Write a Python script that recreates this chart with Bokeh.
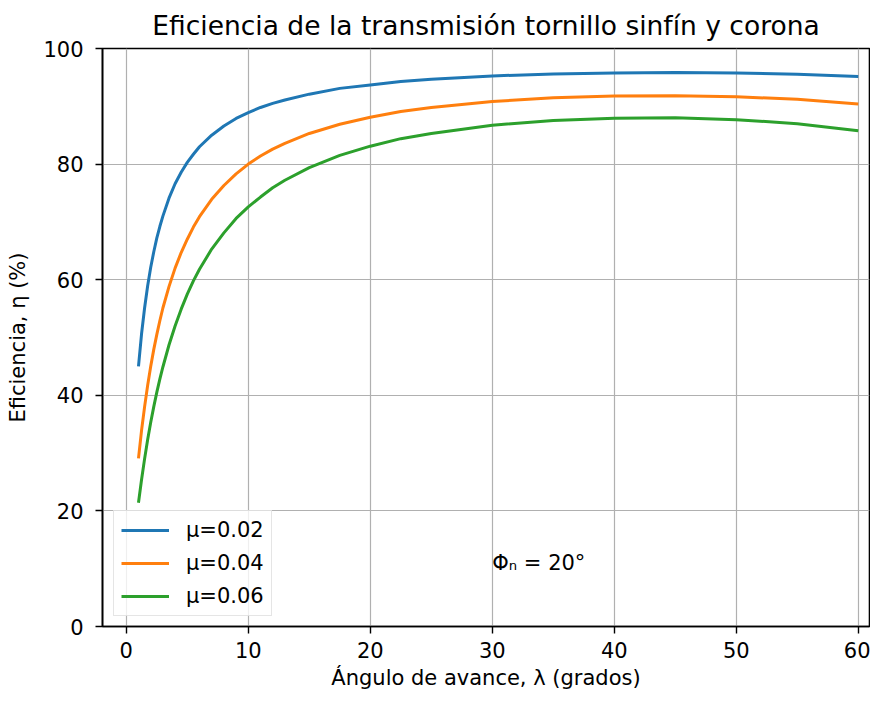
from bokeh.plotting import figure
from bokeh.models import Range1d, FixedTicker, Legend, LegendItem, Label
from bokeh.embed import file_html
from bokeh.resources import INLINE

# Lead angle (degrees)
lam = [1, 1.25, 1.5, 1.75, 2, 2.25, 2.5, 2.75, 3, 3.5, 4, 4.5, 5, 5.5, 6, 7, 8, 9, 10,
       11, 12, 13, 15, 17.5, 20, 22.5, 25, 30, 35, 40, 45, 50, 55, 60]
# Efficiency (%)
eta_002 = [45.0, 50.6, 55.1, 58.9, 62.1, 64.8, 67.2, 69.2, 71.0, 74.1, 76.6, 78.6, 80.3,
           81.7, 83.0, 85.0, 86.6, 87.9, 88.9, 89.8, 90.5, 91.1, 92.1, 93.1, 93.7, 94.3,
           94.7, 95.26, 95.6, 95.78, 95.83, 95.75, 95.54, 95.14]
eta_004 = [29.1, 33.9, 38.0, 41.7, 45.0, 47.9, 50.5, 52.9, 55.1, 58.8, 62.0, 64.7, 67.0,
           69.1, 70.9, 73.9, 76.3, 78.3, 80.0, 81.4, 82.6, 83.6, 85.3, 86.9, 88.1, 89.1,
           89.8, 90.84, 91.46, 91.77, 91.83, 91.65, 91.2, 90.41]
eta_006 = [21.4, 25.4, 29.0, 32.3, 35.3, 38.0, 40.5, 42.8, 44.9, 48.7, 52.0, 54.9, 57.5,
           59.8, 61.8, 65.3, 68.1, 70.6, 72.6, 74.3, 75.9, 77.2, 79.4, 81.5, 83.1, 84.4,
           85.3, 86.72, 87.55, 87.95, 88.0, 87.69, 86.99, 85.78]
labels = ["μ=0.02", "μ=0.04", "μ=0.06"]
colors = ["#1f77b4", "#ff7f0e", "#2ca02c"]
x_ticks = [0, 10, 20, 30, 40, 50, 60]
y_ticks = [0, 20, 40, 60, 80, 100]
annotation = "Φₙ = 20°"

FONT = "DejaVu Sans"

p = figure(width=870, height=692, output_backend="svg", toolbar_location=None,
           x_range=Range1d(-1.95, 60.92), y_range=Range1d(0, 100),
           min_border_left=102, min_border_right=1, min_border_top=46, min_border_bottom=60)

p.title.text = "Eficiencia de la transmisión tornillo sinfín y corona"
p.title.align = "center"
p.title.text_font = FONT
p.title.text_font_size = "26.5px"
p.title.text_font_style = "normal"
p.title.text_color = "#000000"
p.title.standoff = 15

renderers = []
for ys, c in zip([eta_002, eta_004, eta_006], colors):
    r = p.line(lam, ys, line_color=c, line_width=3.0)
    renderers.append(r)

p.xaxis.ticker = FixedTicker(ticks=x_ticks)
p.yaxis.ticker = FixedTicker(ticks=y_ticks)
for ax in [p.xaxis[0], p.yaxis[0]]:
    ax.major_label_text_font = FONT
    ax.major_label_text_font_size = "21px"
    ax.major_label_text_color = "#000000"
    ax.axis_label_text_font = FONT
    ax.axis_label_text_font_size = "21px"
    ax.axis_label_text_font_style = "normal"
    ax.axis_label_text_color = "#000000"
    ax.axis_line_color = "#000000"
    ax.axis_line_width = 1.6
    ax.major_tick_line_color = "#000000"
    ax.major_tick_line_width = 1.4
    ax.major_tick_out = 7
    ax.major_tick_in = 0
    ax.minor_tick_line_color = None

p.xaxis.axis_label = "Ángulo de avance, λ (grados)"
p.yaxis.axis_label = "Eficiencia, η (%)"
p.xaxis.major_label_standoff = 8
p.yaxis.major_label_standoff = 12
p.xaxis.axis_label_standoff = 5
p.yaxis.axis_label_standoff = 10

p.outline_line_color = "#000000"
p.outline_line_width = 1.6
p.xgrid.grid_line_color = "#b0b0b0"
p.ygrid.grid_line_color = "#b0b0b0"
p.xgrid.grid_line_width = 1.2
p.ygrid.grid_line_width = 1.2

items = [LegendItem(label=l, renderers=[r]) for l, r in zip(labels, renderers)]
legend = Legend(items=items, location=(11, 10))
legend.label_text_font = FONT
legend.label_text_font_size = "21px"
legend.label_text_color = "#000000"
legend.glyph_width = 48
legend.glyph_height = 24
legend.label_standoff = 17
legend.spacing = 9
legend.padding = 7
legend.margin = 0
legend.border_line_color = "#cccccc"
legend.border_line_width = 1.2
legend.background_fill_alpha = 0.8
p.add_layout(legend, "center")

ann = Label(x=30, y=11, text=annotation, text_font=FONT, text_font_size="21px",
            text_color="#000000", text_baseline="middle", text_align="left")
p.add_layout(ann)

open("out.html", "w").write(file_html(p, INLINE))
